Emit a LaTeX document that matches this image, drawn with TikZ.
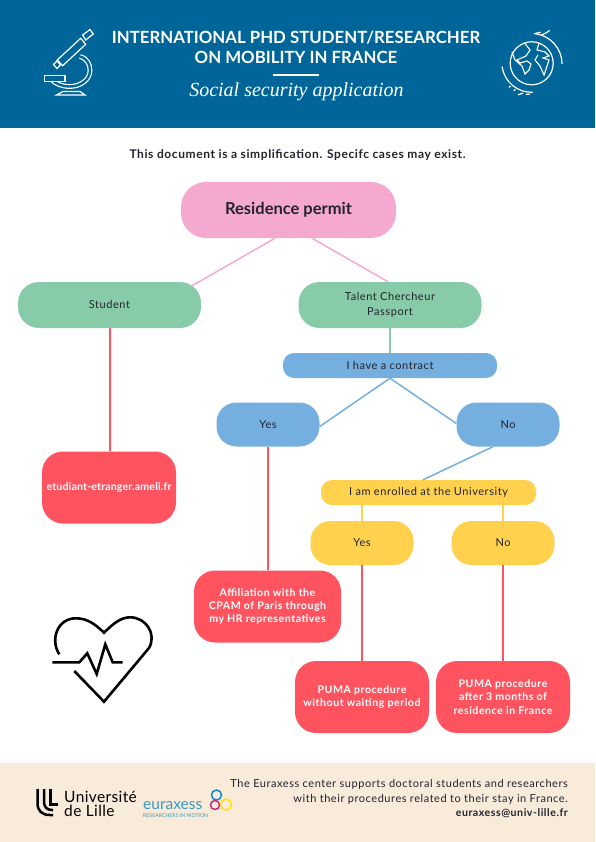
\documentclass[tikz,border=0pt]{standalone}
\usepackage{fontspec}
\setmainfont{Lato}
\newfontfamily\titleserif{Liberation Serif}
\newfontfamily\wide[LetterSpace=5]{Lato}
\newfontfamily\semiwide[LetterSpace=2.5]{Lato}
\newfontfamily\slightwide[LetterSpace=1.5]{Lato}
\definecolor{hblue}{HTML}{006699}
\definecolor{cream}{HTML}{F8EBD9}
\definecolor{pinkc}{HTML}{F6A9CF}
\definecolor{greenc}{HTML}{88CBA8}
\definecolor{bluec}{HTML}{74AFE0}
\definecolor{yellowc}{HTML}{FFD14D}
\definecolor{redc}{HTML}{FF5460}
\definecolor{inkc}{HTML}{23232F}
\definecolor{eurblue}{HTML}{3A9AC0}
\tikzset{
  box/.style n args={5}{draw=none,fill=#1,rounded corners=#4,minimum width=#2,minimum height=#3,inner sep=0pt,align=center,text=inkc,font=\fontsize{#5}{#5}\selectfont},
  pinkbox/.style={box={pinkc}{215pt}{56pt}{25pt}{14.5},font=\fontsize{16.5}{18}\selectfont\bfseries},
  greenbox/.style={box={greenc}{183pt}{46pt}{21pt}{10},font=\wide\fontsize{11}{15}\selectfont},
  bluebar/.style={box={bluec}{214pt}{25pt}{11pt}{10},font=\wide\fontsize{11}{12}\selectfont},
  yellowbar/.style={box={yellowc}{215pt}{25pt}{11pt}{10},font=\wide\fontsize{11}{12}\selectfont},
  blueans/.style={box={bluec}{103pt}{44pt}{20pt}{10},font=\wide\fontsize{11}{12}\selectfont},
  yellowans/.style={box={yellowc}{103pt}{44pt}{20pt}{10},font=\wide\fontsize{11}{12}\selectfont},
  redbox/.style={box={redc}{134pt}{72pt}{21pt}{10},text=white,font=\wide\fontsize{10.6}{13.2}\selectfont\bfseries},
  pinkline/.style={draw=pinkc,line width=1.5pt},
  greenline/.style={draw=greenc,line width=1.6pt},
  blueline/.style={draw=bluec,line width=1.5pt},
  yellowline/.style={draw=yellowc,line width=1.8pt},
  redline/.style={draw=redc,line width=2pt},
  icon/.style={draw=white,line width=1.2pt,line join=miter},
  heartline/.style={draw=black,line width=2.6pt,line join=miter},
  plain/.style={inner sep=0pt,text=inkc},
}
\begin{document}
\begin{tikzpicture}[x=1pt,y=-1pt]
\useasboundingbox (0,0) rectangle (595,842);
\fill[hblue] (0,0) rectangle (595,128);
\fill[cream] (0,763) rectangle (595,842);

% header text
\node[plain,text=white,align=center,font=\fontsize{16.8}{20}\selectfont\bfseries] (title) at (296,47.5) {INTERNATIONAL PHD STUDENT/RESEARCHER\\ON MOBILITY IN FRANCE};
\fill[white] (273,74.3) rectangle (319,75.8);
\node[plain,text=white,font=\titleserif\itshape\fontsize{20}{22}\selectfont] (sub) at (296.5,92) {Social security application};
\node[plain,font=\wide\fontsize{12}{13}\selectfont\bfseries] (note) at (297.5,155) {This document is a simplification. Specifc cases may exist.};

% microscope
\draw[draw=white,line width=1.2pt,double=hblue,double distance=2.4pt] (80,56.5) .. controls (87,58.5) and (90,64) .. (90,70.5) .. controls (90,80) and (80,86.5) .. (70,86.5) .. controls (62,86.5) and (56,84) .. (52,80);
\draw[icon,fill=hblue] (57.3,60) -- (80.7,38.3) -- (85.7,44.3) -- (62.7,65.7) -- cycle;
\draw[icon,fill=hblue] (53.5,64.5) -- (57,61) -- (60.5,65) -- (57,68.5) -- cycle;
\draw[icon,fill=hblue] (82.7,35) -- (90,29.5) -- (93.3,34) -- (85.7,40) -- cycle;
\draw[icon,fill=hblue] (44.5,75.5) rectangle (65,81.5);
\draw[icon] (56.5,95) -- (85,95) -- (80,91.5) -- (63,91.5) -- cycle;

% globe
\draw[icon] (531.7,63.3) circle[radius=21.5];
\draw[icon] (502,66.5) arc[start angle=172,end angle=88,radius=30];
\draw[icon] (535,33.5) arc[start angle=83,end angle=72,radius=30];
\draw[icon] (541.5,35) arc[start angle=70,end angle=52,radius=30];
\draw[icon] (562,64) arc[start angle=0,end angle=-85,radius=30.5];
\draw[icon] (530,94) arc[start angle=-92,end angle=-100,radius=30.5];
\draw[icon] (523,93) arc[start angle=-106,end angle=-116,radius=30.5];
\draw[icon] (515.5,89.5) arc[start angle=-123,end angle=-127,radius=30.5];
\draw[icon] (510.5,86) arc[start angle=-130,end angle=-134,radius=30.5];
\draw[icon,line width=1.1pt] (525,43.5) -- (530,50) -- (526,56) -- (517,60) -- (520,63) -- (527,61) -- (531,64) -- (529,70) -- (525,74) -- (522,66) -- (515,60) -- (512,52);
\draw[icon,line width=1.1pt] (539,43) -- (537,50) -- (545,52) -- (549,56) -- (543,58) -- (549,60) -- (546,69) -- (544,75) -- (540,66) -- (535,60) -- (538,55);

% heart
\draw[heartline] (59.3,654.3) .. controls (50,640) and (57,618.3) .. (76,618.3) .. controls (88,618.3) and (96,625) .. (104,632.7) .. controls (112,625) and (120,617.3) .. (130,617.3) .. controls (146,617.3) and (157,634) .. (149,648) -- (104,701.7) -- (74.3,671);
\draw[heartline] (52.3,662.3) -- (79.3,662.3) -- (87.3,653.3) -- (96.7,674) -- (105.3,644.3) -- (112.7,662.3) -- (122.7,662.3);

% nodes
\node[pinkbox] (res) at (288.5,210) {\raisebox{-1pt}{Residence permit}};
\node[greenbox] (student) at (109.5,305) {\raisebox{0.7pt}{Student}};
\node[greenbox] (talent) at (390,305) {Talent Chercheur\\Passport};
\node[bluebar] (contract) at (390,365.5) {I have a contract};
\node[blueans] (byes) at (268,424.5) {Yes};
\node[blueans] (bno) at (508,424.5) {No};
\node[yellowbar] (enrolled) at (428.5,492.5) {\raisebox{-1.5pt}{I am enrolled at the University}};
\node[yellowans] (yyes) at (362,543) {Yes};
\node[yellowans] (yno) at (503,543) {No};
\node[redbox,font=\slightwide\fontsize{10.6}{13.2}\selectfont\bfseries] (etud) at (109,487.5) {etudiant-etranger.ameli.fr};
\node[redbox,minimum width=147pt] (affil) at (267.5,606.5) {Affiliation with the\\CPAM of Paris through\\my HR representatives};
\node[redbox] (puma1) at (362,697) {PUMA procedure\\without waiting period};
\node[redbox] (puma2) at (503,697) {PUMA procedure\\after 3 months of\\residence in France};

% connectors
\draw[pinkline] ([xshift=-13.5pt]res.south) -- ([xshift=82.5pt,yshift=-4pt]student.north);
\draw[pinkline] ([xshift=23.5pt]res.south) -- ([xshift=-2pt]talent.north);
\draw[greenline] (talent.south) -- (contract.north);
\draw[blueline] (contract.south) -- ([yshift=-2pt]byes.east);
\draw[blueline] (contract.south) -- ([yshift=1pt]bno.west);
\draw[blueline] ([xshift=-15pt]bno.south) -- ([xshift=-5.5pt]enrolled.north);
\draw[yellowline] (enrolled.south -| yyes.north) -- (yyes.north);
\draw[yellowline] (enrolled.south -| yno.north) -- (yno.north);
\draw[redline] (student.south) -- (etud.north -| student.south);
\draw[redline] (byes.south) -- (affil.north -| byes.south);
\draw[redline] (yyes.south) -- (puma1.north);
\draw[redline] (yno.south) -- (puma2.north);

% Lille logo
\draw[draw=black,line width=2.5pt] (37.5,789) -- (37.5,803) .. controls (37.5,811) and (42,815) .. (50,815) -- (53,815);
\draw[draw=black,line width=2.5pt] (44,789) -- (44,802) .. controls (44,807) and (47,810) .. (52,810) -- (53,810);
\draw[draw=black,line width=2.5pt] (50.5,789) -- (50.5,804.5) -- (58,804.5);
\node[plain,text=black,anchor=west,align=left,font=\semiwide\fontsize{15.5}{14.5}\selectfont] (ulille) at (64,804) {Université\\de Lille};

% Euraxess logo
\node[plain,text=eurblue,anchor=west,font=\fontsize{15.5}{16}\selectfont] (eur) at (143,806) {euraxess};
\node[plain,text=eurblue,anchor=west,font=\fontsize{5.2}{6}\selectfont] (eur2) at (143,816) {RESEARCHERS IN MOTION};
\draw[draw=cyan!70!blue,line width=1.5pt] (216.5,795) circle[radius=5];
\draw[draw=magenta!80!black,line width=1.5pt] (215,805) circle[radius=4.5];
\draw[draw=yellow!85!orange,line width=1.5pt] (226,804.5) circle[radius=5.5];

% footer text
\node[plain,anchor=east,align=right,font=\wide\fontsize{11}{15}\selectfont] (foot) at (568,791.5) {The Euraxess center supports doctoral students and researchers\\with their procedures related to their stay in France.};
\node[plain,anchor=east,font=\wide\fontsize{10.6}{12}\selectfont\bfseries] (mail) at (568,813) {euraxess@univ-lille.fr};
\end{tikzpicture}
\end{document}
